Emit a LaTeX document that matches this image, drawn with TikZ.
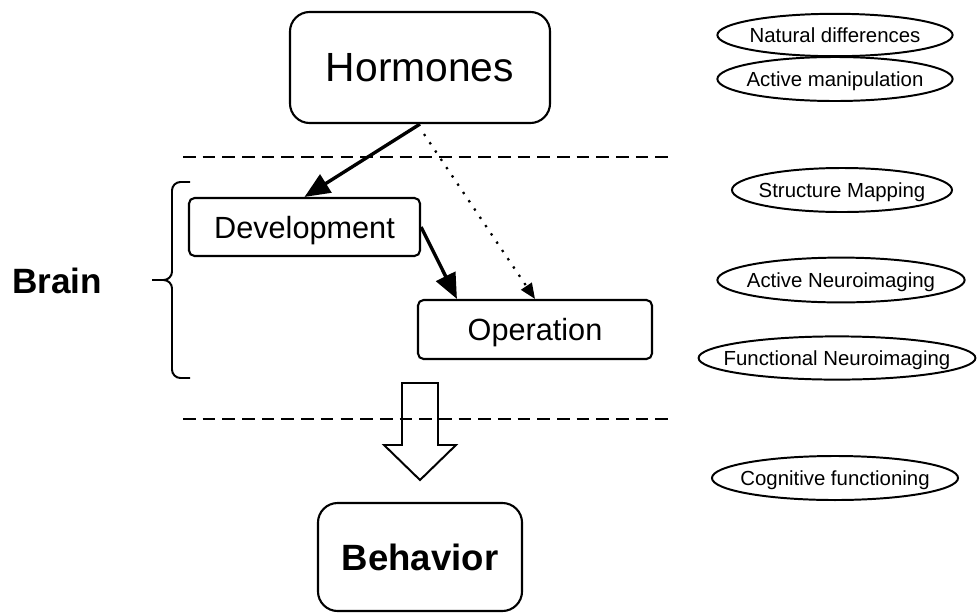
\documentclass[tikz,border=0pt]{standalone}
\usepackage{fontspec}
\setmainfont{Liberation Sans}
\usetikzlibrary{positioning,calc,arrows.meta}

\tikzset{
  box/.style={draw, line width=1.5pt, inner sep=0pt, text depth=0pt},
  oval/.style={inner sep=0pt, text depth=0pt, font=\fontsize{14.5}{16}\selectfont},
  ovalline/.style={line width=1.4pt},
  thickarrow/.style={line width=2.4pt, -{Triangle[length=18pt,width=15pt]}},
  dotarrow/.style={line width=1.6pt, dash pattern=on 1.6pt off 5.5pt, -{Triangle[length=11pt,width=9pt]}},
  sep/.style={line width=1.4pt, dash pattern=on 9pt off 5pt},
}

\begin{document}
\begin{tikzpicture}[x=0.025cm, y=-0.025cm]
				\useasboundingbox (0,0) rectangle (978,613);
				% boxes
				\node[box, rounded corners=14pt, minimum width=6.5cm, minimum height=2.775cm, font=\fontsize{29}{34}\selectfont] (horm) at (420,67.5) {Hormones};
				\node[box, rounded corners=4pt, minimum width=5.775cm, minimum height=1.45cm, font=\fontsize{21.8}{26}\selectfont] (dev) at (304.5,227) {Development};
				\node[box, rounded corners=4pt, minimum width=5.85cm, minimum height=1.475cm, font=\fontsize{21.8}{26}\selectfont] (op) at (535,329.5) {Operation};
				\node[box, rounded corners=14pt, minimum width=5.1cm, minimum height=2.7cm, font=\bfseries\fontsize{26}{30}\selectfont] (beh) at (420,557) {Behavior};
				\node[font=\bfseries\fontsize{25}{30}\selectfont, text depth=0pt] (brain) at (57,281) {Brain};
				% methods
				\node[oval] (nat) at (835,35) {Natural differences};
				\node[oval] (man) at (835,79) {Active manipulation};
				\node[oval] (str) at (842,190) {Structure Mapping};
				\node[oval] (act) at (841,280) {Active Neuroimaging};
				\node[oval] (fun) at (837,358) {Functional Neuroimaging};
				\node[oval] (cog) at (835,478) {Cognitive functioning};
				\draw[ovalline] (nat.center) ellipse [x radius=2.94cm, y radius=0.53cm];
				\draw[ovalline] (man.center) ellipse [x radius=2.94cm, y radius=0.55cm];
				\draw[ovalline] (str.center) ellipse [x radius=2.75cm, y radius=0.55cm];
				\draw[ovalline] (act.center) ellipse [x radius=3.09cm, y radius=0.56cm];
				\draw[ovalline] (fun.center) ellipse [x radius=3.46cm, y radius=0.54cm];
				\draw[ovalline] (cog.center) ellipse [x radius=3.075cm, y radius=0.55cm];
				% separators
				\coordinate (s1l) at (183,157);
				\coordinate (s1r) at (672,157);
				\coordinate (s2l) at (183,419);
				\coordinate (s2r) at (672,419);
				\draw[sep] (s1l) -- (s1r);
				\draw[sep] (s2l) -- (s2r);
				% arrows
				\draw[thickarrow] (horm.south) -- (dev.north);
				\draw[thickarrow] (dev.east) -- ([xshift=1cm]op.north west);
				\draw[dotarrow] ([xshift=0.1cm,yshift=-0.25cm]horm.south) -- (op.north);
				% brace
				\coordinate (brtip) at (152,280);
				\draw[line width=1.4pt, rounded corners=6pt] (190,182) -| (172,280) -- (brtip);
				\draw[line width=1.4pt, rounded corners=6pt] (190,378) -| (172,280) -- (brtip);
				% block arrow
				\draw[line width=1.4pt, line join=miter] (402,383) -- (438,383) -- (438,445) -- (456,445) -- (420,480) -- (384,445) -- (402,445) -- cycle;
\end{tikzpicture}
\end{document}
